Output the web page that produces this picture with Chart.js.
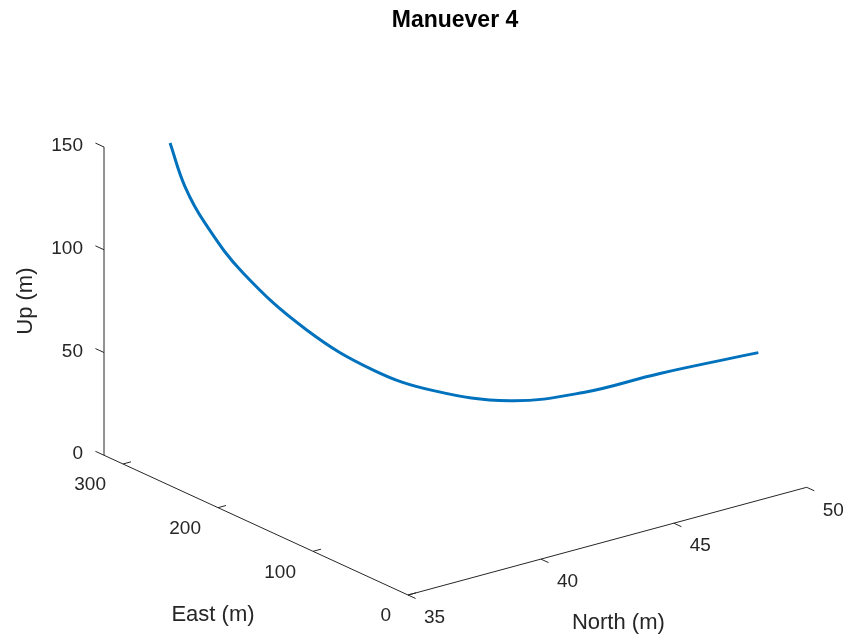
<!DOCTYPE html>
<html>
<head>
<meta charset="utf-8">
<script src="https://cdn.jsdelivr.net/npm/chart.js@4.4.0/dist/chart.umd.min.js"></script>
<style>
  html, body { margin: 0; padding: 0; background: #fff; }
  #wrap { width: 851px; height: 639px; }
</style>
</head>
<body>
<div id="wrap"><canvas id="chart"></canvas></div>
<script>
// trajectory samples (metres)
const northVals = [36.77, 37.06, 37.45, 38.19, 39.42, 40.71, 41.88, 43.36, 44.79, 46.27, 48.18];
const eastVals  = [300, 292.4, 282.2, 262.6, 230.3, 196.3, 165.7, 126.6, 89.2, 50.1, 0];
const upVals    = [150.0, 129.4, 112.4, 89.6, 64.6, 47.8, 40.2, 38.4, 45.4, 57.8, 71.9];

const northTicks = [35, 40, 45, 50];
const eastTicks  = [0, 100, 200, 300];
const upTicks    = [0, 50, 100, 150];
const northLim = [35, 50];
const eastLim  = [0, 320];
const upLim    = [0, 150];

const AXIS_COLOR = '#262626';
const TICK_FONT = '19px "Liberation Sans", Arial, sans-serif';
const LABEL_FONT = '22px "Liberation Sans", Arial, sans-serif';

// fixed 3D view -> 2D plane (orthographic, like the MATLAB view)
function proj(n, e, u) {
  return {
    x: 408 + (n - 35) * 26.58 - e * 0.95,
    y: 595 - (n - 35) * 7.18 - e * 0.4367 - u * 2.055
  };
}

function lineSet(points, color, width) {
  return {
    data: points,
    showLine: true,
    borderColor: color,
    borderWidth: width,
    pointRadius: 0,
    fill: false,
    tension: 0
  };
}

const datasets = [];

// axes
datasets.push(lineSet([proj(northLim[0], eastLim[1], upLim[0]), proj(northLim[0], eastLim[1], upLim[1])], AXIS_COLOR, 1));
datasets.push(lineSet([proj(northLim[0], eastLim[0], 0), proj(northLim[0], eastLim[1], 0)], AXIS_COLOR, 1));
datasets.push(lineSet([proj(northLim[0], eastLim[0], 0), proj(northLim[1], eastLim[0], 0)], AXIS_COLOR, 1));

// tick marks
upTicks.forEach(u => datasets.push(lineSet([proj(35, eastLim[1], u), proj(35, eastLim[1] + 9, u)], AXIS_COLOR, 1)));
eastTicks.forEach(e => datasets.push(lineSet([proj(35, e, 0), proj(35.3, e, 0)], AXIS_COLOR, 1)));
northTicks.forEach(n => datasets.push(lineSet([proj(n, 0, 0), proj(n, -8, 0)], AXIS_COLOR, 1)));

// trajectory
const curve = lineSet(northVals.map((n, i) => proj(n, eastVals[i], upVals[i])), '#0072BD', 3);
curve.tension = 0.4;
datasets.push(curve);

const textPlugin = {
  id: 'axisText',
  afterDraw(chart) {
    const ctx = chart.ctx;
    const xs = chart.scales.x, ys = chart.scales.y;
    const px = p => ({ x: xs.getPixelForValue(p.x), y: ys.getPixelForValue(p.y) });
    ctx.save();
    ctx.fillStyle = AXIS_COLOR;

    ctx.font = TICK_FONT;
    ctx.textBaseline = 'middle';
    ctx.textAlign = 'right';
    upTicks.forEach(u => {
      const p = px(proj(35, eastLim[1], u));
      ctx.fillText(String(u), p.x - 21, p.y - 1);
    });
    eastTicks.forEach(e => {
      const p = px(proj(35, e, 0));
      ctx.fillText(String(e), p.x - 17, p.y + 21);
    });
    ctx.textAlign = 'left';
    northTicks.forEach(n => {
      const p = px(proj(n, 0, 0));
      ctx.fillText(String(n), p.x + 16, p.y + 23);
    });

    ctx.font = LABEL_FONT;
    ctx.textAlign = 'center';
    let p = px(proj(35, 160, 0));
    ctx.fillText('East (m)', p.x - 43, p.y + 90);
    p = px(proj(42.5, 0, 0));
    ctx.fillText('North (m)', p.x + 11, p.y + 82);
    p = px(proj(35, eastLim[1], 75));
    ctx.save();
    ctx.translate(p.x - 78, p.y);
    ctx.rotate(-Math.PI / 2);
    ctx.fillText('Up (m)', 0, 0);
    ctx.restore();

    ctx.font = 'bold 23px "Liberation Sans", Arial, sans-serif';
    ctx.fillStyle = '#000';
    ctx.fillText('Manuever 4', 455, 21);
    ctx.restore();
  }
};

new Chart(document.getElementById('chart'), {
  type: 'scatter',
  data: { datasets },
  options: {
    responsive: true,
    maintainAspectRatio: false,
    animation: false,
    layout: { padding: 0 },
    plugins: { legend: { display: false }, tooltip: { enabled: false }, title: { display: false } },
    scales: {
      x: { type: 'linear', min: 0, max: 851, display: false },
      y: { type: 'linear', min: 0, max: 639, reverse: true, display: false }
    }
  },
  plugins: [textPlugin]
});
</script>
</body>
</html>
